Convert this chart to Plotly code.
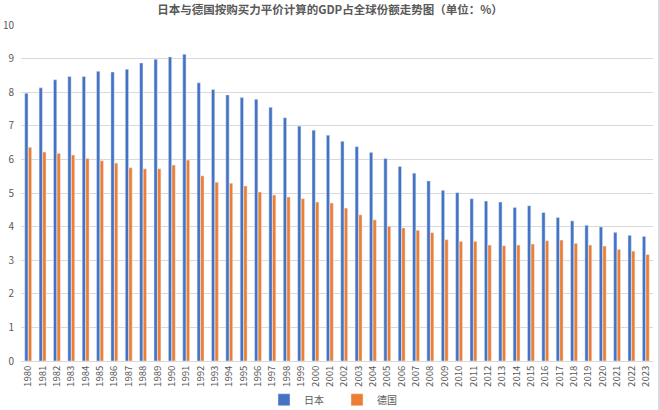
import plotly.graph_objects as go

years = [str(y) for y in range(1980, 2024)]
japan = [7.97, 8.13, 8.37, 8.47, 8.47, 8.62, 8.60, 8.68, 8.87, 8.98, 9.05, 9.13,
         8.28, 8.08, 7.92, 7.84, 7.79, 7.55, 7.24, 6.99, 6.87, 6.72, 6.54, 6.38,
         6.21, 6.03, 5.79, 5.59, 5.36, 5.08, 5.01, 4.83, 4.76, 4.73, 4.57, 4.62,
         4.42, 4.27, 4.17, 4.04, 3.99, 3.83, 3.74, 3.71]
germany = [6.36, 6.22, 6.18, 6.13, 6.03, 5.96, 5.89, 5.75, 5.72, 5.72, 5.83, 5.98,
           5.51, 5.32, 5.29, 5.21, 5.03, 4.94, 4.88, 4.83, 4.73, 4.70, 4.55, 4.35,
           4.20, 4.01, 3.96, 3.89, 3.82, 3.61, 3.56, 3.56, 3.45, 3.43, 3.45, 3.48,
           3.58, 3.60, 3.50, 3.45, 3.42, 3.32, 3.27, 3.17]
yticks = [0, 1, 2, 3, 4, 5, 6, 7, 8, 9, 10]
title = "日本与德国按购买力平价计算的GDP占全球份额走势图（单位：%）"

FONT = "Noto Sans CJK SC"
fig = go.Figure()
fig.add_trace(go.Bar(x=years, y=japan, name="日本", marker_color="#4472C4"))
fig.add_trace(go.Bar(x=years, y=germany, name="德国", marker_color="#ED7D31"))

fig.update_layout(
    width=660, height=410,
    margin=dict(l=21, r=7, t=25, b=49, autoexpand=False),
    paper_bgcolor="white", plot_bgcolor="white",
    font=dict(family=FONT, size=10, color="#595959"),
    title=dict(text="<b>" + title + "</b>", x=0.5, xanchor="center",
               yref="container", y=0.975, yanchor="middle",
               font=dict(family=FONT, size=11.5, color="#595959")),
    barmode="group", bargap=0.5, bargroupgap=0.08,
    showlegend=True,
    legend=dict(orientation="h", x=0.5, xanchor="center",
                yref="container", y=0.025, yanchor="middle",
                font=dict(family=FONT, size=10, color="#595959"), itemwidth=30,
                entrywidth=28, entrywidthmode="pixels",
                bgcolor="rgba(0,0,0,0)", tracegroupgap=0),
    xaxis=dict(type="category", tickangle=-90, tickfont=dict(size=9.5, color="#595959"),
               showgrid=False, showline=True, linecolor="#d9d9d9", ticks="", ticklen=0,
               automargin=False),
    yaxis=dict(range=[0, 10], tickvals=yticks, showgrid=True, gridcolor="#d9d9d9",
               gridwidth=1, zeroline=False, showline=False, ticks="",
               tickfont=dict(size=10, color="#595959"), automargin=False,
               ticklabelstandoff=6),
    shapes=[dict(type="line", xref="paper", yref="paper", x0=1.0095, x1=1.0095,
                 y0=-0.2, y1=1.1, line=dict(color="#b4b4c4", width=1))],
)

fig.write_html("out.html", config={"displayModeBar": False},
               post_script="document.body.style.margin='0';"
               "document.body.style.overflow='hidden';")
